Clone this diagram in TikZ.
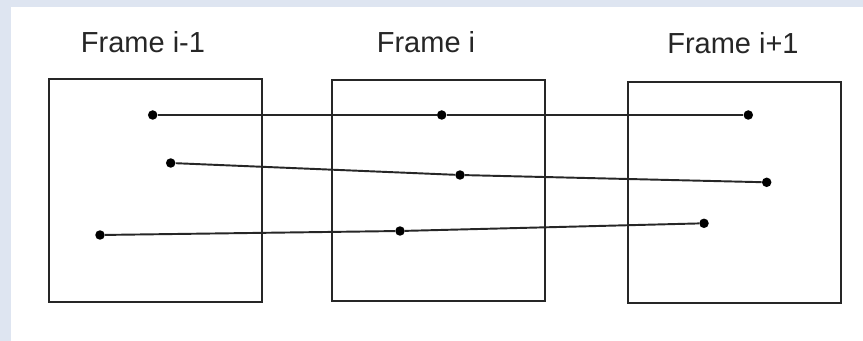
\documentclass[tikz,border=0pt]{standalone}
\usepackage{fontspec}
\setmainfont{Liberation Sans}
\definecolor{pagebg}{RGB}{222,229,241}
\tikzset{
    frm/.style={draw=black!85,line width=1.2pt},
    lbl/.style={anchor=base,font=\fontsize{16.5}{18}\selectfont,text=black!85},
    pt/.style={circle,fill=black,inner sep=0pt,minimum size=0.19cm},
    trk/.style={draw=black!85,line width=1.1pt}
}
\begin{document}
\begin{tikzpicture}[x=0.02cm,y=-0.02cm]
        % page background
        \fill [pagebg] (0,0) rectangle (863,341);
        \fill [white] (11,7) rectangle (863,341);
        \useasboundingbox (0,0) rectangle (863,341);
        % the three frames
        \draw [frm] (49,79) rectangle (262,302);
        \draw [frm] (332,80) rectangle (545,301);
        \draw [frm] (628,82) rectangle (841,303);
        \node [lbl] (tprev) at (143,53) {Frame i-1};
        \node [lbl] (tcur)  at (426,53) {Frame i};
        \node [lbl] (tnext) at (733,54) {Frame i+1};
        % points in each frame
        \node [pt] (p1) at (152.7,115) {};
        \node [pt] (p2) at (170.7,163) {};
        \node [pt] (p3) at (100,235) {};
        \node [pt] (c1) at (441.7,115) {};
        \node [pt] (c2) at (460,175) {};
        \node [pt] (c3) at (400,231) {};
        \node [pt] (n1) at (748.3,115) {};
        \node [pt] (n2) at (766.7,182.3) {};
        \node [pt] (n3) at (704,223.3) {};
        % trajectories
        \draw [trk] (p1) -- (c1) -- (n1);
        \draw [trk] (p2) -- (c2) -- (n2);
        \draw [trk] (p3) -- (c3) -- (n3);
\end{tikzpicture}
\end{document}
